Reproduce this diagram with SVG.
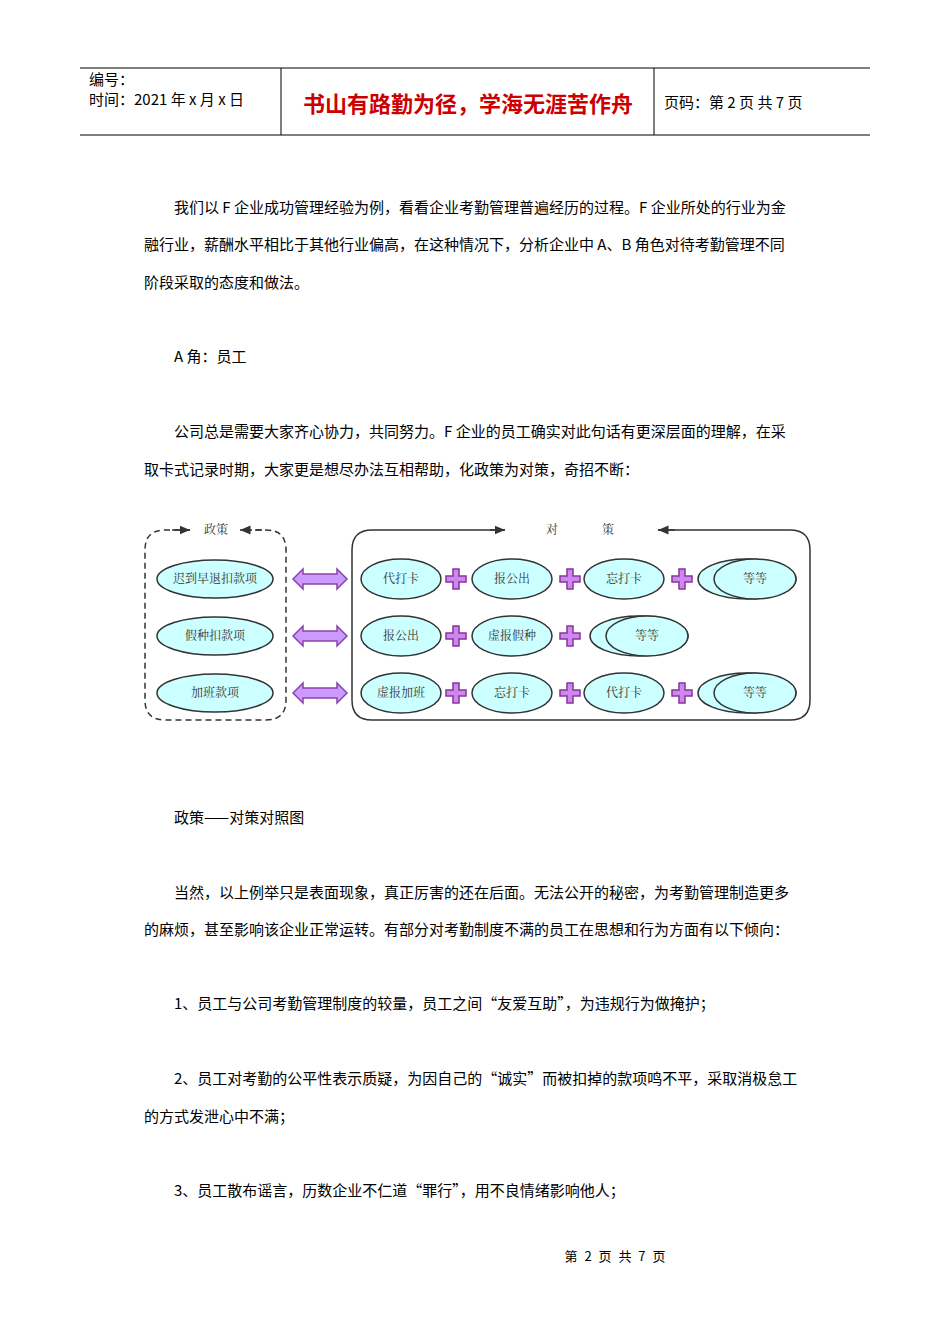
<svg xmlns="http://www.w3.org/2000/svg" width="950" height="1344" viewBox="0 0 950 1344">
<style>
text{font-family:"Noto Sans CJK SC","Liberation Sans",sans-serif;fill:#000}
.b{font-size:15px}
.e{fill:#ccffff;stroke:#333;stroke-width:1.5}
.et{font-family:"Noto Serif CJK SC","Noto Sans CJK SC",serif;font-size:12px;fill:#333;text-anchor:middle}
.pl{fill:#cc88ee;stroke:#883399;stroke-width:1.5}
.ar{fill:#cc99ff;stroke:#8844aa;stroke-width:1.5}
</style>
<defs>
<marker id="ah" markerWidth="8" markerHeight="8" refX="7" refY="4" orient="auto"><path d="M0,1L7,4L0,7z" fill="#333"/></marker>
<path id="plus" d="M-3,-10h6v7h7v6h-7v7h-6v-7h-7v-6h7z"/>
<path id="dar" d="M-27,0l10,-10v5h34v-5l10,10l-10,10v-5h-34v5z"/>
</defs>
<g id="header" stroke="#000" stroke-width="1">
<line x1="80" y1="68" x2="870" y2="68"/><line x1="80" y1="135" x2="870" y2="135"/>
<line x1="281" y1="68" x2="281" y2="135"/><line x1="654" y1="68" x2="654" y2="135"/>
</g>
<text x="89" y="85" class="b">编号：</text>
<text x="89" y="105" class="b">时间：2021 年 x 月 x 日</text>
<text x="468" y="112" font-size="22" text-anchor="middle" style="fill:#cc0000;font-weight:bold">书山有路勤为径，学海无涯苦作舟</text>
<text x="664" y="108" class="b">页码：第 2 页  共 7 页</text>
<text x="174" y="213" class="b">我们以 F 企业成功管理经验为例，看看企业考勤管理普遍经历的过程。F 企业所处的行业为金</text>
<text x="144" y="250" class="b">融行业，薪酬水平相比于其他行业偏高，在这种情况下，分析企业中 A、B 角色对待考勤管理不同</text>
<text x="144" y="288" class="b">阶段采取的态度和做法。</text>
<text x="174" y="362" class="b">A 角：员工</text>
<text x="174" y="437" class="b">公司总是需要大家齐心协力，共同努力。F 企业的员工确实对此句话有更深层面的理解，在采</text>
<text x="144" y="475" class="b">取卡式记录时期，大家更是想尽办法互相帮助，化政策为对策，奇招不断：</text>
<g id="connectors" fill="none" stroke="#333" stroke-width="1.5">
<path d="M190,530H165Q145,530 145,550V700Q145,720 165,720H266Q286,720 286,700V550Q286,530 266,530H245" stroke-dasharray="6,4"/>
<line x1="172" y1="530" x2="190" y2="530" marker-end="url(#ah)"/>
<line x1="262" y1="530" x2="240" y2="530" stroke-dasharray="6,4" marker-end="url(#ah)"/>
<path d="M505,530H372Q352,530 352,550V700Q352,720 372,720H790Q810,720 810,700V550Q810,530 790,530H658"/>
<line x1="490" y1="530" x2="505" y2="530" marker-end="url(#ah)"/>
<line x1="675" y1="530" x2="658" y2="530" marker-end="url(#ah)"/>
<use href="#dar" x="320" y="579" class="ar"/><use href="#dar" x="320" y="636" class="ar"/><use href="#dar" x="320" y="693" class="ar"/>
</g>
<text x="216" y="534" class="et">政策</text>
<text x="552" y="534" class="et">对</text><text x="608" y="534" class="et">策</text>
<g id="n1"><ellipse cx="215" cy="579" rx="58" ry="19" class="e"/><text x="215" y="583" class="et">迟到早退扣款项</text></g>
<g id="n2"><ellipse cx="215" cy="636" rx="58" ry="19" class="e"/><text x="215" y="640" class="et">假种扣款项</text></g>
<g id="n3"><ellipse cx="215" cy="693" rx="58" ry="19" class="e"/><text x="215" y="697" class="et">加班款项</text></g>
<g id="r1a"><ellipse cx="401" cy="579" rx="40" ry="20" class="e"/><text x="401" y="583" class="et">代打卡</text></g>
<g id="r1b"><ellipse cx="512" cy="579" rx="40" ry="20" class="e"/><text x="512" y="583" class="et">报公出</text></g>
<g id="r1c"><ellipse cx="624" cy="579" rx="40" ry="20" class="e"/><text x="624" y="583" class="et">忘打卡</text></g>
<g id="r1d"><ellipse cx="747" cy="579" rx="49" ry="20" class="e"/><ellipse cx="755" cy="579" rx="41" ry="20" class="e"/><text x="755" y="583" class="et">等等</text></g>
<g id="r2a"><ellipse cx="401" cy="636" rx="40" ry="20" class="e"/><text x="401" y="640" class="et">报公出</text></g>
<g id="r2b"><ellipse cx="512" cy="636" rx="40" ry="20" class="e"/><text x="512" y="640" class="et">虚报假种</text></g>
<g id="r2c"><ellipse cx="639" cy="636" rx="49" ry="20" class="e"/><ellipse cx="647" cy="636" rx="41" ry="20" class="e"/><text x="647" y="640" class="et">等等</text></g>
<g id="r3a"><ellipse cx="401" cy="693" rx="40" ry="20" class="e"/><text x="401" y="697" class="et">虚报加班</text></g>
<g id="r3b"><ellipse cx="512" cy="693" rx="40" ry="20" class="e"/><text x="512" y="697" class="et">忘打卡</text></g>
<g id="r3c"><ellipse cx="624" cy="693" rx="40" ry="20" class="e"/><text x="624" y="697" class="et">代打卡</text></g>
<g id="r3d"><ellipse cx="747" cy="693" rx="49" ry="20" class="e"/><ellipse cx="755" cy="693" rx="41" ry="20" class="e"/><text x="755" y="697" class="et">等等</text></g>
<g id="plusses" class="pl">
<use href="#plus" x="456" y="579"/><use href="#plus" x="570" y="579"/><use href="#plus" x="682" y="579"/>
<use href="#plus" x="456" y="636"/><use href="#plus" x="570" y="636"/>
<use href="#plus" x="456" y="693"/><use href="#plus" x="570" y="693"/><use href="#plus" x="682" y="693"/>
</g>
<text x="174" y="823" class="b">政策——对策对照图</text>
<text x="174" y="898" class="b">当然，以上例举只是表面现象，真正厉害的还在后面。无法公开的秘密，为考勤管理制造更多</text>
<text x="144" y="935" class="b">的麻烦，甚至影响该企业正常运转。有部分对考勤制度不满的员工在思想和行为方面有以下倾向：</text>
<text x="174" y="1009" class="b">1、员工与公司考勤管理制度的较量，员工之间“友爱互助”，为违规行为做掩护；</text>
<text x="174" y="1084" class="b">2、员工对考勤的公平性表示质疑，为因自己的“诚实”而被扣掉的款项鸣不平，采取消极怠工</text>
<text x="144" y="1122" class="b">的方式发泄心中不满；</text>
<text x="174" y="1196" class="b">3、员工散布谣言，历数企业不仁道“罪行”，用不良情绪影响他人；</text>
<text x="616" y="1261" font-size="13" text-anchor="middle" letter-spacing="2">第 2 页 共 7 页</text>
</svg>
